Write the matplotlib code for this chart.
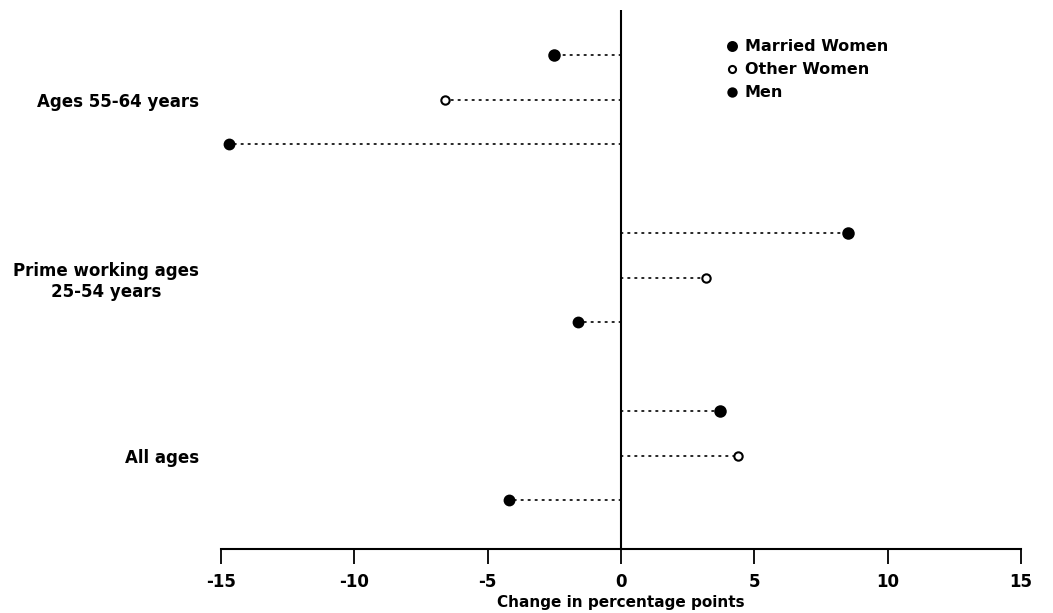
import matplotlib.pyplot as plt
import numpy as np

plt.rcParams['font.family'] = ['DejaVu Sans']
plt.rcParams['font.weight'] = 'bold'
plt.rcParams['axes.unicode_minus'] = False

# change in labor force participation, percentage points
groups = ['Ages 55-64 years', 'Prime working ages\n25-54 years', 'All ages']
series = ['Married Women', 'Other Women', 'Men']
married_women = [-2.5, 8.5, 3.7]
other_women = [-6.6, 3.2, 4.4]
men = [-14.7, -1.6, -4.2]
xticks = [-15, -10, -5, 0, 5, 10, 15]

values = [married_women, other_women, men]
filled = [True, False, True]
msize = [7.5, 6, 7]

fig = plt.figure(figsize=(10.53, 6.13), dpi=100)
ax = fig.add_axes([0.2099, 0.1044, 0.7597, 0.8793])

centers = np.arange(len(groups)) * 4.0
handles = []
for k, (name, vals) in enumerate(zip(series, values)):
    ys = centers + (k - 1)
    for y, v in zip(ys, vals):
        ax.plot([0, v], [y, y], color='black', lw=1.2, linestyle=(0, (1, 3.2)),
                dash_capstyle='round', zorder=1)
    h, = ax.plot(vals, ys, linestyle='none', marker='o', markersize=msize[k],
                 markerfacecolor='black' if filled[k] else 'white',
                 markeredgecolor='black', markeredgewidth=1.5, zorder=3,
                 label=name)
    handles.append(h)

ax.axvline(0, color='black', lw=1.5, zorder=2)

ax.set_xlim(-15, 15)
ax.set_ylim(10.09, -2.02)
ax.set_xticks(xticks)
ax.set_xticklabels([str(t) for t in xticks], fontsize=12, fontweight='bold')
ax.set_yticks(centers)
ax.set_yticklabels(groups, fontsize=12, fontweight='bold', multialignment='center')
ax.tick_params(axis='y', length=0, pad=16)
ax.tick_params(axis='x', length=11, width=1.3, direction='out', pad=6)
ax.set_xlabel('Change in percentage points', fontsize=11, fontweight='bold', labelpad=3)

for s in ['top', 'right', 'left']:
    ax.spines[s].set_visible(False)
ax.spines['bottom'].set_linewidth(1.5)

leg = ax.legend(handles=handles, loc='upper left', bbox_to_anchor=(0.615, 0.972),
                frameon=False, handlelength=0.6, handletextpad=0.5,
                labelspacing=0.5, prop={'size': 11.5, 'weight': 'bold'},
                markerscale=0.85)

fig.savefig('out.png', dpi=100)
